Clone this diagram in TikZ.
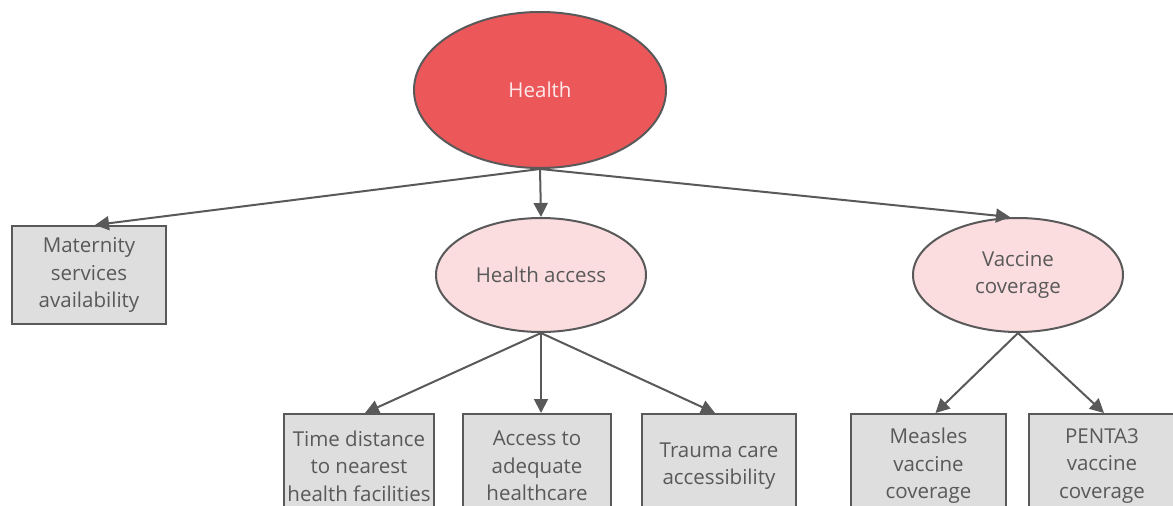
\documentclass[tikz,border=0pt]{standalone}
\usepackage{fontspec}
\setmainfont{Open Sans}
\usetikzlibrary{shapes.geometric,arrows.meta}
\definecolor{linegray}{HTML}{595959}
\definecolor{boxfill}{HTML}{DEDEDE}
\definecolor{healthred}{HTML}{EC585A}
\definecolor{lightpink}{HTML}{FBDDE0}
\definecolor{healthtext}{HTML}{FDE8EA}
\tikzset{
  base/.style={draw=linegray, line width=2pt, text=linegray, font=\fontsize{20.5}{27.5}\selectfont, align=center, inner sep=0pt},
  bigoval/.style={base, ellipse, fill=healthred, text=healthtext, minimum width=252pt, minimum height=156pt},
  oval/.style={base, ellipse, fill=lightpink, minimum width=210pt, minimum height=114pt},
  leafbox/.style={base, rectangle, fill=boxfill, minimum height=98pt},
  conn/.style={draw=linegray, line width=2pt, -{Triangle[length=14pt,width=14pt]}}
}
\begin{document}
\begin{tikzpicture}[x=1pt,y=-1pt]
\useasboundingbox (0,0) rectangle (1173,506);
\clip (0,0) rectangle (1173,506);
\node[bigoval] (H) at (540,90) {Health};
\node[leafbox, minimum width=154pt] (M) at (89,275) {Maternity\\services\\availability};
\node[oval] (HA) at (541,275) {Health access};
\node[oval] (V) at (1018,275) {Vaccine\\coverage};
\node[leafbox, minimum width=150pt, minimum height=104pt] (T) at (359,466) {Time distance\\to nearest\\health facilities};
\node[leafbox, minimum width=148pt, minimum height=104pt] (A) at (537,466) {Access to\\adequate\\healthcare};
\node[leafbox, minimum width=154pt, minimum height=104pt] (R) at (719,466) {Trauma care\\accessibility};
\node[leafbox, minimum width=155pt, minimum height=104pt] (ME) at (928.5,466) {Measles\\vaccine\\coverage};
\node[leafbox, minimum width=146pt, minimum height=104pt] (P) at (1102,466) {PENTA3\\vaccine\\coverage};
\draw[conn] (H.south) -- ([xshift=6pt]M.north);
\draw[conn] (H.south) -- (HA.north);
\draw[conn] (H.south) -- ([xshift=-8pt]V.north);
\draw[conn] (HA.south) -- ([xshift=6pt]T.north);
\draw[conn] (HA.south) -- (HA.south |- A.north);
\draw[conn] (HA.south) -- ([xshift=-4pt]R.north);
\draw[conn] (V.south) -- ([xshift=7pt]ME.north);
\draw[conn] (V.south) -- ([xshift=2pt]P.north);
\end{tikzpicture}
\end{document}
